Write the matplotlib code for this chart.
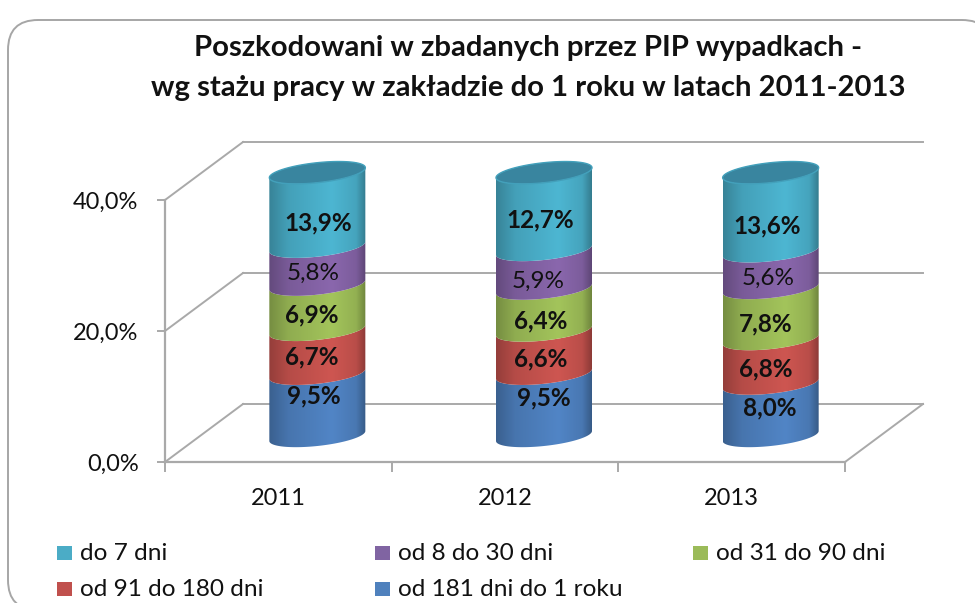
# Stacked cylinder chart of accident victims by length of service.

import matplotlib

matplotlib.use("Agg")
import matplotlib.pyplot as plt
import numpy as np
from matplotlib.patches import FancyBboxPatch, Polygon, Rectangle
from matplotlib.ticker import FuncFormatter
from matplotlib.transforms import ScaledTranslation

plt.rcParams["font.family"] = ["Lato", "DejaVu Sans"]

years = ["2011", "2012", "2013"]
y_ticks = [0, 20, 40]

# bottom to top of the stack
series_names = ["od 181 dni do 1 roku", "od 91 do 180 dni", "od 31 do 90 dni", "od 8 do 30 dni", "do 7 dni"]
od_181 = [9.5, 9.5, 8.0]
od_91 = [6.7, 6.6, 6.8]
od_31 = [6.9, 6.4, 7.8]
od_8 = [5.8, 5.9, 5.6]
do_7 = [13.9, 12.7, 13.6]

colors = ["#4F81BD", "#C0504D", "#9BBB59", "#8064A2", "#4BACC6"]
side_colors = ["#5185C6", "#CE5651", "#A3C45B", "#8A67AD", "#4DB6D2"]
top_color = "#39859F"
rim_color = "#42A0BB"
grid_color = "#A9A9A9"

# the stack is cut off at the top of the axis, like in the original
stack_top = 40.2

# hand placed data labels, pixels from the middle of each segment
label_nudges = [
    [(-4, 9), (-6, -5), (-6, -8), (-4, -8), (1, -13)],
    [(0, 7), (-3, -7), (-3, -11), (-6, -12), (-4, -9)],
    [(-1, 2), (-5, -8), (-5, -10), (-3, -9), (-4, -14)],
]

W, H = 975, 603
fig = plt.figure(figsize=(W / 100, H / 100), dpi=100, facecolor="white")

# page layer in pixels: frame, title and legend
page = fig.add_axes([0, 0, 1, 1], zorder=0)
page.set_xlim(0, W)
page.set_ylim(H, 0)
page.axis("off")
page.add_patch(
    FancyBboxPatch(
        (38, 50), 924, 530,
        boxstyle="round,pad=30,rounding_size=30",
        facecolor="white", edgecolor="#A6A6A6", linewidth=1.4,
    )
)
page.text(528, 48, "Poszkodowani w zbadanych przez PIP wypadkach -", ha="center", va="center",
          fontsize=21.1, fontweight="bold", color="#111111")
page.text(528, 88, "wg stażu pracy w zakładzie do 1 roku w latach 2011-2013", ha="center", va="center",
          fontsize=21.1, fontweight="bold", color="#111111")

legend_slots = [(375, 589), (57, 589), (693, 553), (375, 553), (57, 553)]
for name, color, (lx, ly) in zip(series_names, colors, legend_slots):
    page.add_patch(Rectangle((lx, ly - 7), 15, 14, facecolor=color, edgecolor="none"))
    page.text(lx + 23, ly, name, ha="left", va="center", fontsize=17.6, color="#111111")

# chart layer: the front of the plot box
ax = fig.add_axes([165 / W, (H - 462) / H, 680 / W, 262 / H], zorder=1)
ax.patch.set_visible(False)


def shifted(px_right, px_up):
    return ax.transData + ScaledTranslation(px_right / 100, px_up / 100, fig.dpi_scale_trans)


wall = shifted(78, 58)
middle = shifted(39, 26)

# back wall, side wall and floor edge
for tick in y_ticks:
    ax.plot([0, 3], [tick, tick], transform=wall, color=grid_color, lw=1.4, clip_on=False, zorder=1)
    ax.plot([0, 78 / (680 / 3)], [tick, tick + 58 / 6.55], color=grid_color, lw=1.4, clip_on=False, zorder=1)
ax.plot([3, 3 + 78 / (680 / 3)], [0, 58 / 6.55], color=grid_color, lw=1.4, clip_on=False, zorder=1)


def ellipse_points(center, level, t):
    half_width = 48 / (680 / 3)
    x = center + half_width * np.cos(t)
    y = level + (5 / 6.55) * np.cos(t) + (10 / 6.55) * np.sin(t)
    return np.column_stack([x, y])


front = np.linspace(np.pi, 2 * np.pi, 80)
round_trip = np.linspace(0, 2 * np.pi, 160)
u = np.linspace(-1, 1, 200)
shade = np.interp(u, [-1, -0.6, 0.3, 0.8, 1], [0.72, 0.88, 1.0, 0.9, 0.68])
stacks = np.array([od_181, od_91, od_31, od_8, do_7])
half_width = 48 / (680 / 3)

for i, year in enumerate(years):
    center = i + 0.5
    base = 0.0
    for s, side in enumerate(side_colors):
        value = stacks[s, i]
        level = min(base + value, stack_top)

        lower = ellipse_points(center, base, front)
        upper = ellipse_points(center, level, front[::-1])
        outline = Polygon(np.vstack([lower, upper]), closed=True, transform=middle,
                          facecolor="none", edgecolor="none")
        ax.add_patch(outline)

        rgb = np.array(matplotlib.colors.to_rgb(side))
        strip = np.clip(rgb[None, None, :] * shade[None, :, None], 0, 1)
        image = ax.imshow(
            np.repeat(strip, 2, axis=0),
            extent=(center - half_width, center + half_width, base - 4, level + 4),
            transform=middle, aspect="auto", interpolation="bilinear", zorder=2,
        )
        image.set_clip_box(fig.bbox)
        image.set_clip_path(outline)

        nudge_x, nudge_y = label_nudges[i][s]
        weight = "normal" if s == 3 else "bold"
        ax.annotate(
            f"{value:.1f}".replace(".", ",") + "%",
            xy=(center, (base + level) / 2), xycoords=middle,
            xytext=(nudge_x, nudge_y), textcoords="offset pixels",
            ha="center", va="center", fontsize=17.5, fontweight=weight,
            color="#111111", zorder=4, annotation_clip=False,
        )
        base = level

    ax.add_patch(
        Polygon(ellipse_points(center, base, round_trip), closed=True, transform=middle,
                facecolor=top_color, edgecolor=rim_color, linewidth=1.0, zorder=3, clip_on=False)
    )

ax.set_xlim(0, 3)
ax.set_ylim(0, 40)
for name in ["top", "right"]:
    ax.spines[name].set_visible(False)
for name in ["left", "bottom"]:
    ax.spines[name].set_color(grid_color)
    ax.spines[name].set_linewidth(1.6)

ax.set_yticks(y_ticks)
ax.yaxis.set_major_formatter(FuncFormatter(lambda v, _: f"{v:.1f}".replace(".", ",") + "%"))
ax.set_xticks([0, 1, 2, 3])
ax.set_xticklabels([])
ax.set_xticks([0.5, 1.5, 2.5], labels=years, minor=True)
ax.tick_params(axis="y", length=6, width=1.4, color=grid_color, labelsize=17, labelcolor="#111111", pad=13)
ax.tick_params(axis="x", which="major", length=7, width=1.4, color=grid_color)
ax.tick_params(axis="x", which="minor", length=0, labelsize=17, labelcolor="#111111", pad=18.5)

fig.savefig("out.png", dpi=100)
